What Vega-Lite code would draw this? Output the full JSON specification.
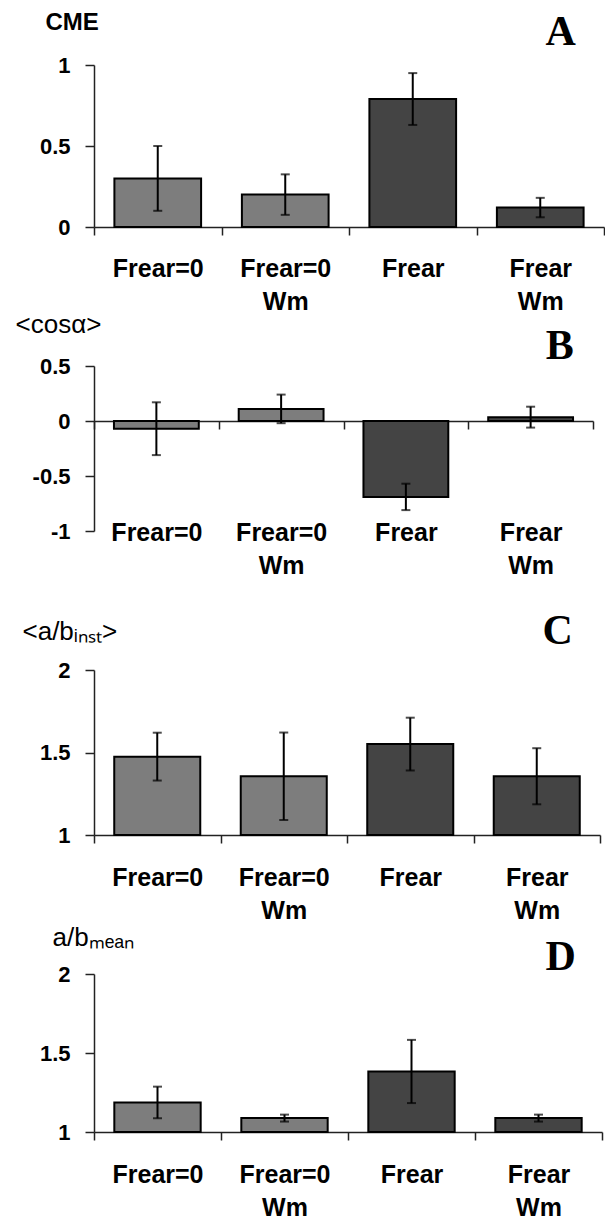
{
  "$schema": "https://vega.github.io/schema/vega-lite/v6.json",
  "background": "white",
  "padding": {"left": 15, "top": 10, "right": 0, "bottom": 0},
  "datasets": {
    "cme": [
      {"cond": "Frear=0", "v": 0.30, "e": 0.20},
      {"cond": "Frear=0 Wm", "v": 0.20, "e": 0.125},
      {"cond": "Frear", "v": 0.79, "e": 0.16},
      {"cond": "Frear Wm", "v": 0.12, "e": 0.06}
    ],
    "cos": [
      {"cond": "Frear=0", "v": -0.07, "e": 0.24},
      {"cond": "Frear=0 Wm", "v": 0.11, "e": 0.13},
      {"cond": "Frear", "v": -0.69, "e": 0.12},
      {"cond": "Frear Wm", "v": 0.035, "e": 0.095}
    ],
    "abi": [
      {"cond": "Frear=0", "v": 1.475, "e": 0.145},
      {"cond": "Frear=0 Wm", "v": 1.356, "e": 0.265},
      {"cond": "Frear", "v": 1.551, "e": 0.16},
      {"cond": "Frear Wm", "v": 1.356, "e": 0.17}
    ],
    "abm": [
      {"cond": "Frear=0", "v": 1.187, "e": 0.1},
      {"cond": "Frear=0 Wm", "v": 1.088, "e": 0.022},
      {"cond": "Frear", "v": 1.383, "e": 0.2},
      {"cond": "Frear Wm", "v": 1.088, "e": 0.022}
    ]
  },
  "bounds": "flush",
  "spacing": 139,
  "resolve": {"scale": {"x": "independent", "y": "independent", "color": "independent"}, "axis": {"x": "independent", "y": "independent"}},
  "vconcat": [
    {
      "width": 510, "height": 162,
      "title": {"text": "A", "offset": -44, "dx": -29},
      "data": {"name": "cme"},
      "encoding": {
        "x": {"field": "cond", "type": "nominal", "sort": null, "scale": {"paddingInner": 0, "paddingOuter": 0},
              "axis": {"title": null, "labelPadding": 21, "labelExpr": "split(datum.label, ' ')"}},
        "y": {"field": "v", "type": "quantitative", "scale": {"domain": [0, 1], "nice": false},
              "axis": {"values": [0, 0.5, 1], "format": "~g", "title": "CME", "titleX": -49, "titleY": -36, "titleFontWeight": "bold", "titleFontSize": 24}}
      },
      "layer": [
        {
          "mark": {"type": "bar", "stroke": "black", "strokeWidth": 2, "width": {"band": 0.68}},
          "encoding": {
            "color": {"field": "cond", "type": "nominal", "legend": null,
                      "scale": {"domain": ["Frear=0", "Frear=0 Wm", "Frear", "Frear Wm"], "range": ["#7d7d7d", "#7d7d7d", "#444444", "#444444"]}}
          }
        },
        {
          "mark": {"type": "errorbar", "color": "black", "ticks": {"size": 9, "thickness": 2}, "rule": {"strokeWidth": 2}},
          "encoding": {"yError": {"field": "e"}}
        }
      ]
    },
    {
      "width": 499, "height": 165,
      "title": {"text": "B", "offset": -57, "dx": -20},
      "data": {"name": "cos"},
      "encoding": {
        "x": {"field": "cond", "type": "nominal", "sort": null, "scale": {"paddingInner": 0, "paddingOuter": 0},
              "axis": {"title": null, "offset": -110, "labelPadding": 91, "labelExpr": "split(datum.label, ' ')"}},
        "y": {"field": "v", "type": "quantitative", "scale": {"domain": [-1, 0.5], "nice": false},
              "axis": {"values": [-1, -0.5, 0, 0.5], "format": "~g", "labelExpr": "replace(datum.label, '−', '-')", "title": "<cosα>", "titleX": -79, "titleY": -34}}
      },
      "layer": [
        {
          "mark": {"type": "bar", "stroke": "black", "strokeWidth": 2, "width": {"band": 0.68}},
          "encoding": {
            "color": {"field": "cond", "type": "nominal", "legend": null,
                      "scale": {"domain": ["Frear=0", "Frear=0 Wm", "Frear", "Frear Wm"], "range": ["#7d7d7d", "#7d7d7d", "#444444", "#444444"]}}
          }
        },
        {
          "mark": {"type": "errorbar", "color": "black", "ticks": {"size": 9, "thickness": 2}, "rule": {"strokeWidth": 2}},
          "encoding": {"yError": {"field": "e"}}
        }
      ]
    },
    {
      "width": 506, "height": 165,
      "title": {"text": "C", "offset": -35, "dx": -28},
      "data": {"name": "abi"},
      "encoding": {
        "x": {"field": "cond", "type": "nominal", "sort": null, "scale": {"paddingInner": 0, "paddingOuter": 0},
              "axis": {"title": null, "labelPadding": 22, "labelExpr": "split(datum.label, ' ')"}},
        "y": {"field": "v", "type": "quantitative", "scale": {"domain": [1, 2], "nice": false, "zero": false},
              "axis": {"values": [1, 1.5, 2], "format": "~g", "title": "<a/bᵢₙₛₜ>", "titleX": -72, "titleY": -31}}
      },
      "layer": [
        {
          "mark": {"type": "bar", "stroke": "black", "strokeWidth": 2, "width": {"band": 0.68}},
          "encoding": {
            "y2": {"datum": 1},
            "color": {"field": "cond", "type": "nominal", "legend": null,
                      "scale": {"domain": ["Frear=0", "Frear=0 Wm", "Frear", "Frear Wm"], "range": ["#7d7d7d", "#7d7d7d", "#444444", "#444444"]}}
          }
        },
        {
          "mark": {"type": "errorbar", "color": "black", "ticks": {"size": 9, "thickness": 2}, "rule": {"strokeWidth": 2}},
          "encoding": {"yError": {"field": "e"}}
        }
      ]
    },
    {
      "width": 508, "height": 158,
      "title": {"text": "D", "offset": -55, "dx": -27},
      "data": {"name": "abm"},
      "encoding": {
        "x": {"field": "cond", "type": "nominal", "sort": null, "scale": {"paddingInner": 0, "paddingOuter": 0},
              "axis": {"title": null, "labelPadding": 22, "labelExpr": "split(datum.label, ' ')"}},
        "y": {"field": "v", "type": "quantitative", "scale": {"domain": [1, 2], "nice": false, "zero": false},
              "axis": {"values": [1, 1.5, 2], "format": "~g", "title": "a/bₘₑₐₙ", "titleX": -42, "titleY": -29}}
      },
      "layer": [
        {
          "mark": {"type": "bar", "stroke": "black", "strokeWidth": 2, "width": {"band": 0.68}},
          "encoding": {
            "y2": {"datum": 1},
            "color": {"field": "cond", "type": "nominal", "legend": null,
                      "scale": {"domain": ["Frear=0", "Frear=0 Wm", "Frear", "Frear Wm"], "range": ["#7d7d7d", "#7d7d7d", "#444444", "#444444"]}}
          }
        },
        {
          "mark": {"type": "errorbar", "color": "black", "ticks": {"size": 9, "thickness": 2}, "rule": {"strokeWidth": 2}},
          "encoding": {"yError": {"field": "e"}}
        }
      ]
    }
  ],
  "config": {
    "view": {"stroke": null},
    "font": "Liberation Sans",
    "axis": {"grid": false, "domainColor": "#222", "tickColor": "#222", "domainWidth": 1.5, "tickWidth": 1.5,
             "labelColor": "black", "labelFont": "Liberation Sans", "labelFontWeight": "bold",
             "titleColor": "black", "titleFont": "Liberation Sans"},
    "axisY": {"tickSize": 9, "labelPadding": 15, "labelFontSize": 22, "titleFontSize": 26, "titleAngle": 0,
              "titleAlign": "left", "titleBaseline": "alphabetic", "titleFontWeight": "normal"},
    "axisX": {"tickSize": 8, "labelFontSize": 25, "labelLineHeight": 33, "labelBaseline": "top", "tickBand": "extent",
              "labelAngle": 0, "labelOverlap": false},
    "title": {"font": "Liberation Serif", "fontSize": 42, "fontWeight": "bold", "anchor": "end", "baseline": "alphabetic", "color": "black"}
  }
}
